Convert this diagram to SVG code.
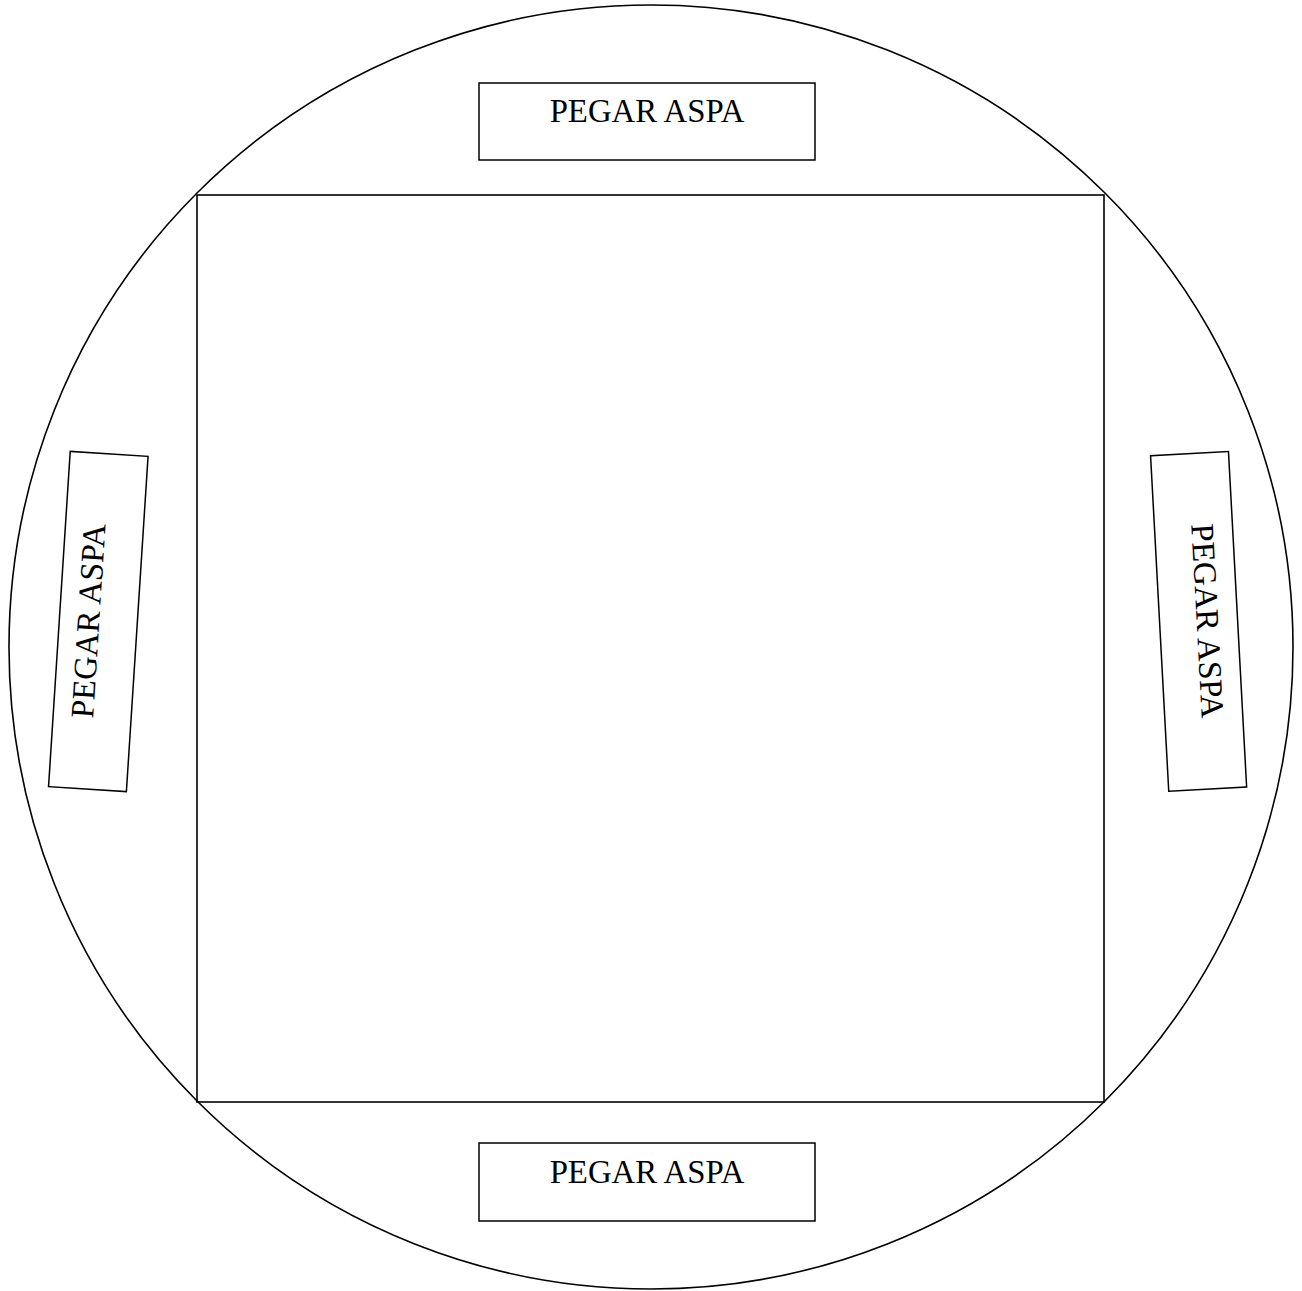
<svg xmlns="http://www.w3.org/2000/svg" width="1302" height="1291" viewBox="0 0 1302 1291">
<style>
.s{fill:#fff;stroke:#000;stroke-width:1.5}
.o{fill:none;stroke:#000;stroke-width:1.6}
.t{font-family:"Liberation Serif","Times New Roman",serif;font-size:32.8px;fill:#000;text-anchor:middle}
</style>
<rect x="0" y="0" width="1302" height="1291" fill="#fff"/>
<g id="circle"><circle class="o" cx="651" cy="647" r="642"/></g>
<g id="square"><rect class="o" x="197" y="195" width="907" height="907"/></g>
<g id="top-label">
<rect class="s" x="479" y="83" width="336" height="77"/>
<text class="t" x="647" y="121.5">PEGAR ASPA</text>
</g>
<g id="bottom-label">
<rect class="s" x="479" y="1143" width="336" height="78"/>
<text class="t" x="647" y="1183">PEGAR ASPA</text>
</g>
<g id="left-label" transform="translate(98.3,621.5) rotate(-86.3)">
<rect class="s" x="-168" y="-39" width="336" height="78"/>
<text class="t" x="0" y="1">PEGAR ASPA</text>
</g>
<g id="right-label" transform="translate(1198.6,621.4) rotate(86.9)">
<rect class="s" x="-168" y="-39" width="336" height="78"/>
<text class="t" x="0" y="2">PEGAR ASPA</text>
</g>
</svg>
